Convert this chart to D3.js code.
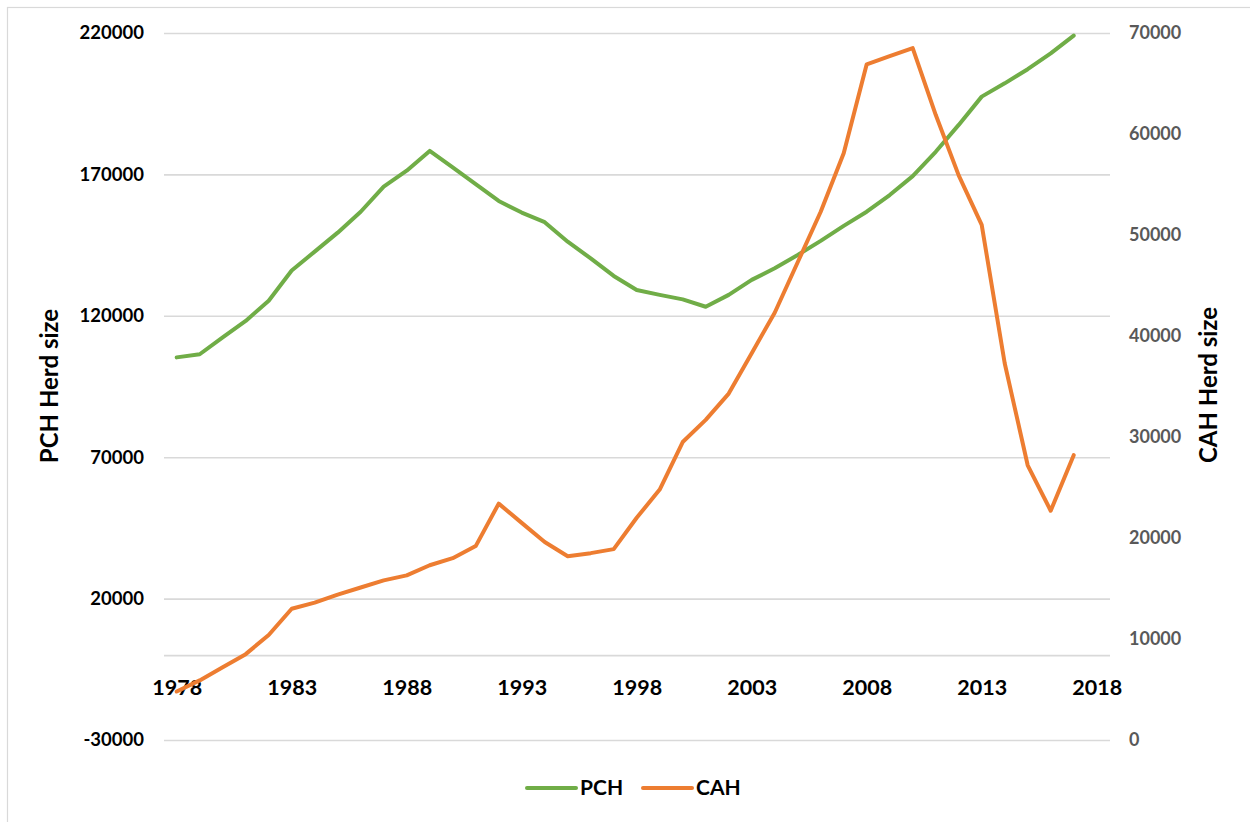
<!DOCTYPE html>
<html>
<head>
<meta charset="utf-8">
<script src="https://cdn.jsdelivr.net/npm/d3@7"></script>
<style>
  html, body { margin: 0; padding: 0; background: #fff; }
  svg { display: block; font-family: Lato, "Open Sans", sans-serif; }
</style>
</head>
<body>
<svg id="chart" width="1250" height="822"></svg>
<script>
// ---- Data ----
const years = [1978,1979,1980,1981,1982,1983,1984,1985,1986,1987,1988,1989,1990,1991,1992,1993,1994,1995,1996,1997,1998,1999,2000,2001,2002,2003,2004,2005,2006,2007,2008,2009,2010,2011,2012,2013,2014,2015,2016,2017];
const pch = [105300,106400,112400,118200,125300,136000,142700,149400,156800,165700,171300,178300,172500,166600,160600,156500,153100,146200,140300,134100,129100,127400,125800,123200,127400,132700,136800,141500,146500,151800,156800,162700,169400,178000,187500,197500,202200,207200,212800,219100];
const cah = [4800,5900,7200,8500,10400,13000,13600,14400,15100,15800,16300,17300,18000,19200,23400,21500,19600,18200,18500,18900,22000,24800,29500,31700,34300,38300,42300,47300,52300,58100,66900,67700,68500,61900,55900,51000,37300,27200,22700,28200];
const leftTicks = [-30000, 20000, 70000, 120000, 170000, 220000];
const rightTicks = [0, 10000, 20000, 30000, 40000, 50000, 60000, 70000];
const xTicks = [1978, 1983, 1988, 1993, 1998, 2003, 2008, 2013, 2018];
const seriesNames = ["PCH", "CAH"];
const seriesColors = ["#70AD47", "#ED7D31"];

// ---- Layout ----
const svg = d3.select("#chart");
const plotLeft = 164, plotRight = 1110, plotTop = 33, plotBottom = 740;

// outer border (top & left visible)
svg.append("rect")
  .attr("x", 7.5).attr("y", 7.5).attr("width", 1260).attr("height", 830)
  .attr("fill", "none").attr("stroke", "#D9D9D9").attr("stroke-width", 1.2);

const x = d3.scaleLinear().domain([1978, 2018]).range([176.7, 1096.7]);
const yL = d3.scaleLinear().domain([-30000, 220000]).range([plotBottom, plotTop]);
const yR = d3.scaleLinear().domain([0, 70000]).range([plotBottom, plotTop]);

// gridlines
const grid = svg.append("g").attr("transform", `translate(${plotLeft},0)`)
  .call(d3.axisLeft(yL).tickValues(leftTicks.concat([0])).tickSize(-(plotRight - plotLeft)).tickFormat(""));
grid.select(".domain").remove();
grid.selectAll("line").attr("stroke", "#D9D9D9").attr("stroke-width", 1.6);

// left axis labels
const la = svg.append("g").attr("transform", `translate(${plotLeft},0)`)
  .call(d3.axisLeft(yL).tickValues(leftTicks).tickSize(0).tickPadding(20).tickFormat(d => String(d)));
la.select(".domain").remove();
la.selectAll("text").attr("font-family", "Lato, sans-serif").attr("font-weight", "bold")
  .attr("font-size", 18.5).attr("fill", "#000");

// right axis labels
const ra = svg.append("g").attr("transform", `translate(${plotRight},0)`)
  .call(d3.axisRight(yR).tickValues(rightTicks).tickSize(0).tickPadding(19).tickFormat(d => String(d)));
ra.select(".domain").remove();
ra.selectAll("text").attr("font-family", "Lato, sans-serif").attr("font-weight", "bold")
  .attr("font-size", 18).attr("fill", "#595959");

// x axis labels
const xa = svg.append("g").attr("transform", `translate(0,${yL(0)})`)
  .call(d3.axisBottom(x).tickValues(xTicks).tickSize(0).tickFormat(d => String(d)));
xa.select(".domain").remove();
xa.selectAll("text").attr("y", 32).attr("dy", "0.35em")
  .attr("font-family", "Lato, sans-serif").attr("font-weight", "bold")
  .attr("font-size", 21.5).attr("fill", "#000");

// axis titles
svg.append("text").attr("transform", "translate(50,386) rotate(-90)")
  .attr("text-anchor", "middle").attr("dy", "0.35em")
  .attr("font-family", "Lato, sans-serif").attr("font-weight", "bold").attr("font-size", 24)
  .attr("fill", "#000").text("PCH Herd size");
svg.append("text").attr("transform", "translate(1209,385) rotate(-90)")
  .attr("text-anchor", "middle").attr("dy", "0.35em")
  .attr("font-family", "Lato, sans-serif").attr("font-weight", "bold").attr("font-size", 24)
  .attr("fill", "#000").text("CAH Herd size");

// lines
const lineL = d3.line().x((d, i) => x(years[i])).y(d => yL(d));
const lineR = d3.line().x((d, i) => x(years[i])).y(d => yR(d));
svg.append("path").datum(pch).attr("d", lineL)
  .attr("fill", "none").attr("stroke", seriesColors[0]).attr("stroke-width", 4)
  .attr("stroke-linejoin", "round").attr("stroke-linecap", "round");
svg.append("path").datum(cah).attr("d", lineR)
  .attr("fill", "none").attr("stroke", seriesColors[1]).attr("stroke-width", 4)
  .attr("stroke-linejoin", "round").attr("stroke-linecap", "round");

// legend
const legend = svg.append("g");
const legX = [527, 643];
seriesNames.forEach((name, i) => {
  const g = legend.append("g").attr("transform", `translate(${legX[i]},788)`);
  g.append("line").attr("x1", 0).attr("x2", 49).attr("y1", 0).attr("y2", 0)
    .attr("stroke", seriesColors[i]).attr("stroke-width", 4).attr("stroke-linecap", "round");
  g.append("text").attr("x", 53).attr("dy", "0.35em")
    .attr("font-family", "Lato, sans-serif").attr("font-weight", "bold").attr("font-size", 21)
    .attr("fill", "#000").text(name);
});
</script>
</body>
</html>
